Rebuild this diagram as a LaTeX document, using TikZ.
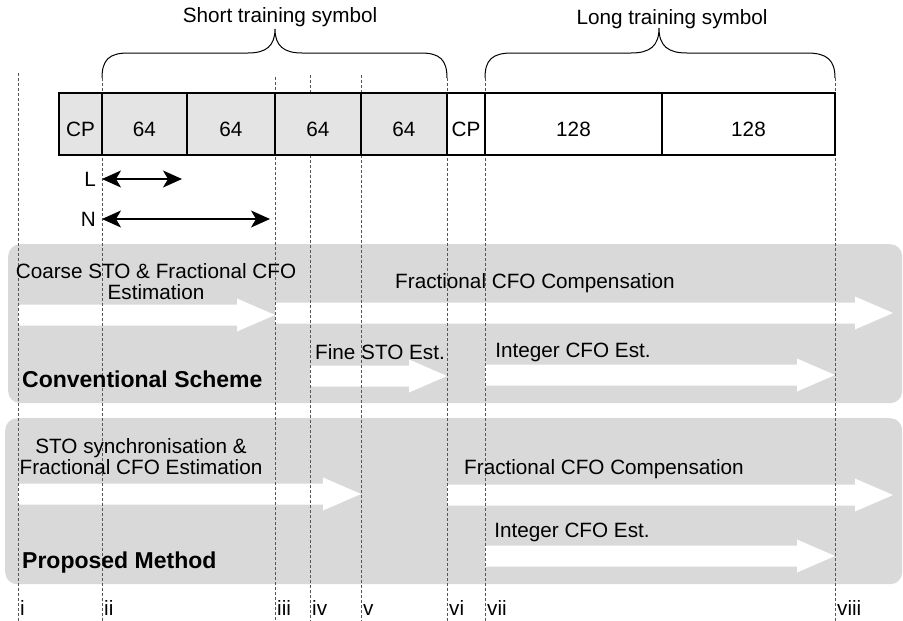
\documentclass[tikz,border=0pt]{standalone}
\usepackage{fontspec}
\setmainfont{Liberation Sans}
\usetikzlibrary{positioning, arrows.meta, calc}

\definecolor{cellgray}{HTML}{E4E4E4}
\definecolor{panelgray}{HTML}{D9D9D9}
\definecolor{dashgray}{HTML}{555555}

% white block arrow from x=#1 to tip x=#2 at height y=#3
\newcommand{\flowarrow}[3]{%
    \fill[white] (#1,#3-10.5) -- (#2-38,#3-10.5) -- (#2-38,#3-16.5) -- (#2,#3)
        -- (#2-38,#3+16.5) -- (#2-38,#3+10.5) -- (#1,#3+10.5) -- cycle;}

\begin{document}
\begin{tikzpicture}[
        x=1pt, y=-1pt,
        txt/.style={font=\fontsize{20.7}{21}\selectfont, inner sep=0pt},
        lbl/.style={txt, text height=14.7pt, text depth=0pt},
        scheme/.style={txt, font=\fontsize{23}{24}\selectfont\bfseries, text height=16.5pt, text depth=0pt, anchor=west},
        cell/.style={rectangle, draw, line width=1.3pt, outer sep=0pt, inner sep=0pt, minimum height=62pt, txt, text height=24.7pt, text depth=0pt},
        shortcell/.style={cell, fill=cellgray},
        longcell/.style={cell, fill=white},
        panel/.style={fill=panelgray, rounded corners=12pt, inner sep=0pt},
        timeline/.style={draw=dashgray, line width=0.8pt, dash pattern=on 3pt off 2pt},
        spanarrow/.style={arrows={Stealth[length=19pt, width=17pt, inset=5pt]-Stealth[length=19pt, width=17pt, inset=5pt]}, line width=1.2pt},
        curly/.style={line width=1pt},
    ]
    \useasboundingbox (0,0) rectangle (903,621);

    % === SCHEME PANELS ===
    \node[panel, minimum width=894pt, minimum height=159pt, anchor=north west] (conv) at (8,244) {};
    \node[panel, minimum width=897pt, minimum height=166pt, anchor=north west] (prop) at (5,418) {};

    % Conventional scheme arrows
    \flowarrow{18}{275}{315}
    \flowarrow{275}{893}{313}
    \flowarrow{310}{447}{376}
    \flowarrow{485}{835}{375}

    % Proposed method arrows
    \flowarrow{18}{361}{494}
    \flowarrow{447}{893}{495}
    \flowarrow{485}{835}{556}

    % === TIME INSTANTS ===
    \foreach \xx/\yy/\nm in {18/73/i, 102/78/ii, 275/77/iii, 310/75/iv, 361/75/v, 447/78/vi, 485/78/vii, 835/78/viii}{
        \coordinate (top-\nm) at (\xx,\yy);
        \coordinate (bot-\nm) at (\xx,621);
        \draw[timeline] (top-\nm) -- (bot-\nm);
        \node[lbl, anchor=west, inner xsep=2pt] (lab-\nm) at (\xx,608) {\nm};
    }

    % === PREAMBLE FRAME (top row) ===
    \node[shortcell, minimum width=43pt, anchor=north west] (cp1) at (59,93) {CP};
    \node[shortcell, minimum width=85pt, right=0pt of cp1] (sts1) {64};
    \node[shortcell, minimum width=88pt, right=0pt of sts1] (sts2) {64};
    \node[shortcell, minimum width=86pt, right=0pt of sts2] (sts3) {64};
    \node[shortcell, minimum width=86pt, right=0pt of sts3] (sts4) {64};
    \node[longcell, minimum width=38pt, right=0pt of sts4] (cp2) {CP};
    \node[longcell, minimum width=177pt, right=0pt of cp2] (lts1) {128};
    \node[longcell, minimum width=173pt, right=0pt of lts1] (lts2) {128};

    % Braces
    \draw[curly] (top-ii) .. controls (102,60) and (109,53) .. (128,53) -- (248,53)
        .. controls (266,53) and (275,46) .. (275,29)
        .. controls (275,46) and (284,53) .. (302,53) -- (421,53)
        .. controls (440,53) and (447,60) .. (top-vi);
    \draw[curly] (top-vii) .. controls (485,60) and (492,53) .. (512,53) -- (631,53)
        .. controls (650,53) and (659,46) .. (659,28)
        .. controls (659,46) and (668,53) .. (687,53) -- (807,53)
        .. controls (827,53) and (835,60) .. (top-viii);
    \node[lbl] (stslabel) at (280,15.5) {Short training symbol};
    \node[lbl] (ltslabel) at (672,16.7) {Long training symbol};

    % Window lengths
    \node[lbl, anchor=east, inner xsep=6pt] (L) at (102,179) {L};
    \coordinate (Lend) at (182,179);
    \draw[spanarrow] (L.east) -- (Lend);
    \node[lbl, anchor=east, inner xsep=6pt] (N) at (102,219) {N};
    \coordinate (Nend) at (270,219);
    \draw[spanarrow] (N.east) -- (Nend);

    % === CONVENTIONAL SCHEME ===
    \node[txt, anchor=north, align=center] (coarse) at (156,263) {Coarse STO \& Fractional CFO\\Estimation};
    \node[lbl] (fraccomp1) at (535,281.5) {Fractional CFO Compensation};
    \node[lbl] (finesto) at (380,352.5) {Fine STO Est.};
    \node[lbl] (intcfo1) at (573,350) {Integer CFO Est.};
    \node[scheme] (convname) at (22,379.5) {Conventional Scheme};

    % === PROPOSED METHOD ===
    \node[txt, anchor=north, align=center] (stosync) at (141,438) {STO synchronisation \&\\Fractional CFO Estimation};
    \node[lbl] (fraccomp2) at (604,467) {Fractional CFO Compensation};
    \node[lbl] (intcfo2) at (572,530) {Integer CFO Est.};
    \node[scheme] (propname) at (22,560) {Proposed Method};
\end{tikzpicture}
\end{document}
